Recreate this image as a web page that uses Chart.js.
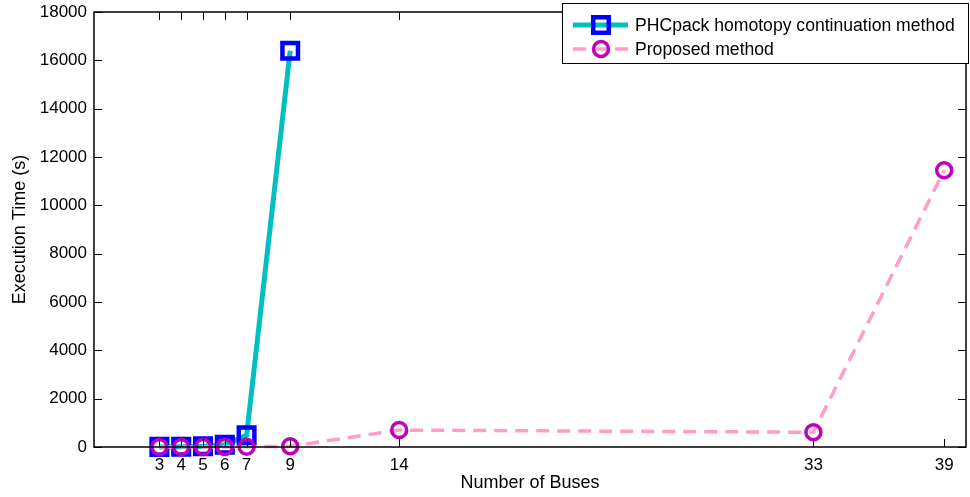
<!DOCTYPE html>
<html>
<head>
<meta charset="utf-8">
<script src="https://cdn.jsdelivr.net/npm/chart.js@4.4.1/dist/chart.umd.min.js"></script>
<style>
  html, body { margin: 0; padding: 0; background: #fff; }
</style>
</head>
<body>
<canvas id="chart" width="970" height="497"></canvas>
<script>
// Values
const busTicks = [3, 4, 5, 6, 7, 9, 14, 33, 39];
const phcBuses = [3, 4, 5, 6, 7, 9];
const phcTimes = [5, 10, 30, 90, 480, 16400];
const proposedBuses = [3, 4, 5, 6, 7, 9, 14, 33, 39];
const proposedTimes = [0.5, 1, 2, 5, 10, 30, 700, 610, 11450];

const fontFamily = '"Liberation Sans", Arial, Helvetica, sans-serif';
Chart.defaults.font.family = fontFamily;
Chart.defaults.color = '#000';

// axes box with inward ticks, plus the legend box in the top right
const frame = {
    id: 'frame',
    afterDraw(chart) {
        const { ctx, chartArea: a, scales: { x, y } } = chart;
        ctx.save();
        ctx.strokeStyle = '#000';
        ctx.lineWidth = 1;
        ctx.beginPath();
        busTicks.forEach(v => {
            const px = Math.round(x.getPixelForValue(v)) + 0.5;
            ctx.moveTo(px, a.bottom); ctx.lineTo(px, a.bottom - 8);
            ctx.moveTo(px, a.top); ctx.lineTo(px, a.top + 8);
        });
        y.ticks.forEach(t => {
            const py = Math.round(y.getPixelForValue(t.value)) + 0.5;
            ctx.moveTo(a.left, py); ctx.lineTo(a.left + 8, py);
            ctx.moveTo(a.right, py); ctx.lineTo(a.right - 8, py);
        });
        ctx.stroke();
        ctx.lineWidth = 1.5;
        ctx.strokeRect(a.left, a.top, a.right - a.left, a.bottom - a.top);

        // legend
        const box = { x: 562.5, y: 3.5, w: 406, h: 60 };
        ctx.fillStyle = '#fff';
        ctx.fillRect(box.x, box.y, box.w, box.h);
        ctx.lineWidth = 1;
        ctx.strokeRect(box.x, box.y, box.w, box.h);
        const rows = [25, 49];
        chart.data.datasets.forEach((ds, i) => {
            const ly = rows[i];
            ctx.setLineDash(ds.borderDash || []);
            ctx.strokeStyle = ds.borderColor;
            ctx.lineWidth = ds.borderWidth;
            ctx.beginPath();
            ctx.moveTo(573, ly); ctx.lineTo(628, ly);
            ctx.stroke();
            ctx.setLineDash([]);
            ctx.strokeStyle = ds.pointBorderColor;
            ctx.lineWidth = ds.pointBorderWidth;
            ctx.beginPath();
            if (ds.pointStyle === 'rect') {
                const s = ds.pointRadius * Math.SQRT1_2;
                ctx.rect(601 - s, ly - s, 2 * s, 2 * s);
            } else {
                ctx.arc(601, ly, ds.pointRadius, 0, Math.PI * 2);
            }
            ctx.stroke();
            ctx.fillStyle = '#000';
            ctx.font = '17.6px ' + fontFamily;
            ctx.textBaseline = 'middle';
            ctx.textAlign = 'left';
            ctx.fillText(ds.label, 635, ly + 1);
        });
        ctx.restore();
    }
};

new Chart(document.getElementById('chart'), {
    type: 'line',
    data: {
        datasets: [
            {
                label: 'PHCpack homotopy continuation method',
                data: phcBuses.map((b, i) => ({ x: b, y: phcTimes[i] })),
                borderColor: '#00BFBF',
                borderWidth: 5,
                pointStyle: 'rect',
                pointRadius: 11,
                pointBorderWidth: 4.5,
                pointBorderColor: '#0000FF',
                pointBackgroundColor: 'rgba(0,0,0,0)',
                clip: false,
                order: 2
            },
            {
                label: 'Proposed method',
                data: proposedBuses.map((b, i) => ({ x: b, y: proposedTimes[i] })),
                borderColor: '#FF9CCC',
                borderWidth: 3.5,
                borderDash: [13, 8],
                pointStyle: 'circle',
                pointRadius: 7.5,
                pointBorderWidth: 3.5,
                pointBorderColor: '#BF00BF',
                pointBackgroundColor: 'rgba(0,0,0,0)',
                clip: false,
                order: 1
            }
        ]
    },
    options: {
        responsive: false,
        animation: false,
        layout: { autoPadding: false, padding: { left: 0, right: 4, top: 12, bottom: 0 } },
        plugins: { legend: { display: false }, tooltip: { enabled: false } },
        scales: {
            x: {
                type: 'linear',
                min: 0,
                max: 40,
                afterBuildTicks: s => { s.ticks = busTicks.map(v => ({ value: v })); },
                afterFit: s => { s.height = 50; s.paddingLeft = 0; s.paddingRight = 0; },
                grid: { display: false, drawTicks: false },
                border: { display: false },
                ticks: { autoSkip: false, maxRotation: 0, padding: 8, font: { size: 17 }, callback: v => String(v) },
                title: { display: true, text: 'Number of Buses', font: { size: 18 }, padding: { top: 0, bottom: 3 } }
            },
            y: {
                min: 0,
                max: 18000,
                afterFit: s => { s.width = 94; s.paddingTop = 0; s.paddingBottom = 0; },
                grid: { display: false, drawTicks: false },
                border: { display: false },
                ticks: { stepSize: 2000, padding: 7, font: { size: 17 }, callback: v => String(v) },
                title: { display: true, text: 'Execution Time (s)', font: { size: 18 }, padding: { top: 9, bottom: 0 } }
            }
        }
    },
    plugins: [frame]
});
</script>
</body>
</html>
